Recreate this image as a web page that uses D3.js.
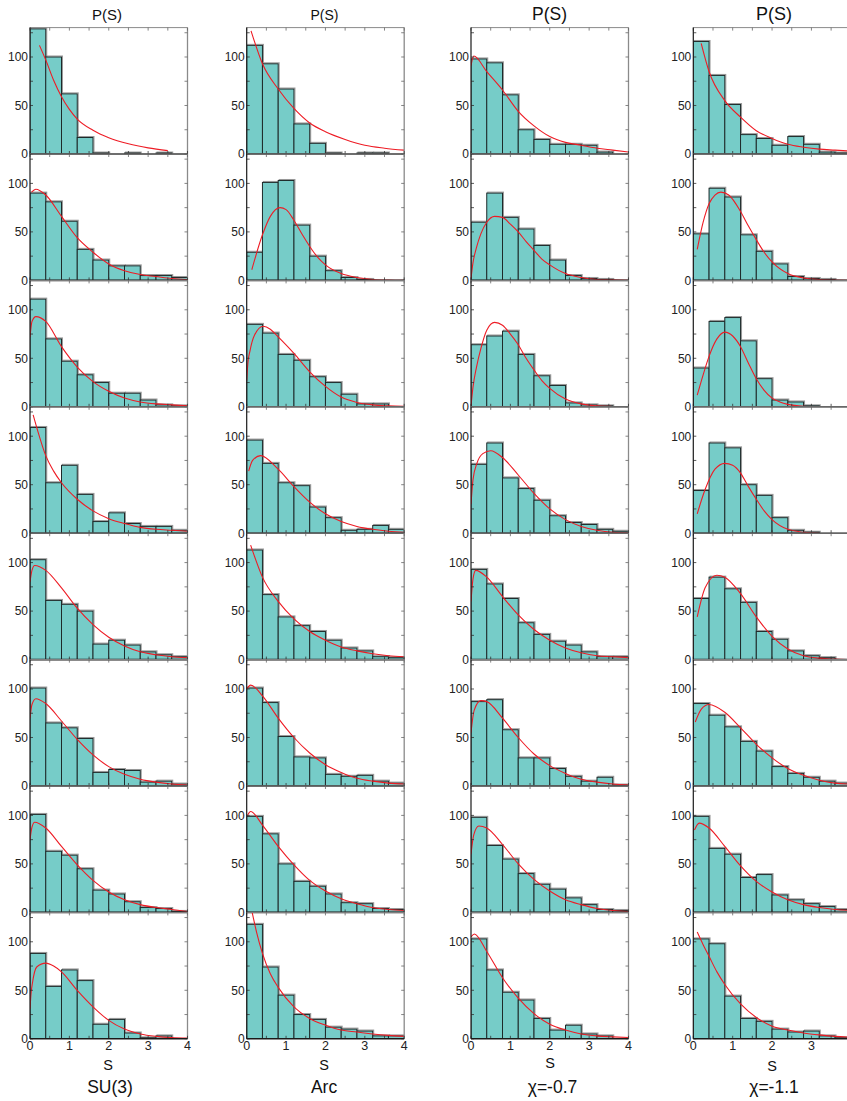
<!DOCTYPE html>
<html><head><meta charset="utf-8">
<script src="https://cdn.jsdelivr.net/npm/d3@7"></script>
<style>body{margin:0;background:#fff}svg{display:block;font-family:"Liberation Sans",Arial,sans-serif}</style>
</head><body><svg id="c" width="847" height="1101"></svg>
<script>
// ---------- DATA ----------
const columnLabels = ["SU(3)", "Arc", "χ=-0.7", "χ=-1.1"];
const titleText = "P(S)";
const xAxisLabel = "S";
const binEdges = [0, 0.4, 0.8, 1.2, 1.6, 2.0, 2.4, 2.8, 3.2, 3.6, 4.0];
const yTickValues = [0, 50, 100];
const xTickValues = [0, 1, 2, 3, 4];
const xTickValuesLast = [0, 1, 2, 3];

const countsSU3 = [
  [129, 100, 62, 17, 1, 0, 1, 0, 1, 0],
  [90, 81, 61, 32, 21, 15, 15, 5, 5, 3],
  [111, 70, 47, 33, 25, 14, 14, 7, 2, 1],
  [109, 52, 70, 40, 12, 21, 10, 7, 7, 3],
  [103, 61, 57, 50, 16, 20, 15, 8, 5, 3],
  [101, 65, 60, 49, 14, 17, 16, 4, 5, 2],
  [101, 63, 59, 45, 23, 19, 11, 5, 4, 1],
  [88, 54, 71, 60, 15, 20, 6, 1, 3, 0]
];
const countsArc = [
  [112, 93, 67, 31, 11, 1, 0, 1, 1, 0],
  [29, 101, 103, 57, 25, 10, 3, 1, 0, 0],
  [85, 76, 54, 48, 31, 25, 13, 3, 3, 0],
  [96, 72, 52, 49, 27, 16, 3, 4, 8, 4],
  [113, 67, 44, 35, 29, 20, 12, 9, 3, 2],
  [101, 86, 51, 30, 29, 12, 10, 11, 5, 3],
  [99, 81, 50, 32, 27, 19, 10, 9, 4, 3],
  [118, 74, 45, 25, 20, 12, 10, 8, 3, 3]
];
const countsChi07 = [
  [98, 94, 61, 25, 15, 10, 10, 9, 2, 0],
  [60, 90, 65, 53, 36, 21, 5, 2, 1, 0],
  [64, 73, 78, 54, 32, 22, 4, 2, 1, 0],
  [71, 93, 57, 46, 34, 18, 11, 9, 4, 2],
  [93, 78, 63, 38, 26, 19, 15, 8, 3, 3],
  [87, 89, 58, 29, 29, 18, 10, 5, 9, 1],
  [98, 69, 55, 40, 29, 24, 15, 8, 3, 2],
  [103, 71, 48, 40, 21, 9, 14, 5, 3, 0]
];
const countsChi11 = [
  [116, 81, 51, 20, 16, 9, 18, 10, 2, 1],
  [48, 95, 86, 47, 30, 17, 4, 2, 1, 0],
  [40, 88, 92, 68, 29, 7, 5, 1, 0, 0],
  [44, 93, 88, 50, 39, 16, 3, 1, 0, 0],
  [63, 85, 73, 59, 29, 21, 9, 4, 2, 0],
  [85, 73, 61, 46, 36, 20, 13, 9, 5, 3],
  [99, 66, 60, 36, 39, 18, 13, 9, 6, 3],
  [103, 98, 44, 21, 18, 10, 7, 8, 3, 1]
];

// fitted curves as [S, P] points
const fitSU3 = [
  [[0.24,112],[0.4,97],[0.6,76],[0.8,59],[1.0,46],[1.2,36],[1.6,24.5],[2.0,16.8],[2.5,10.5],[3.0,6.3],[3.5,3.5]],
  [[0.04,91],[0.15,94],[0.4,88],[0.8,66],[1.2,44],[1.6,29],[2.0,17],[2.4,10],[2.8,6],[3.2,4],[3.6,2],[4.0,1]],
  [[0,72],[0.05,88],[0.15,93],[0.4,88],[0.8,62],[1.2,41],[1.6,26],[2.0,16],[2.4,9],[2.8,5],[3.2,3],[3.6,2],[4.0,1]],
  [[0.08,122],[0.2,105],[0.4,80],[0.6,64],[0.8,52],[1.2,35],[1.6,23],[2.0,15],[2.4,10],[2.8,6],[3.2,4],[3.6,3],[4.0,2]],
  [[0,80],[0.05,92],[0.12,97],[0.4,92],[0.8,74],[1.2,53],[1.6,36],[2.0,23],[2.4,14],[2.8,8],[3.2,5],[3.6,3],[4.0,2]],
  [[0,70],[0.05,84],[0.15,90],[0.4,85],[0.8,67],[1.2,48],[1.6,32],[2.0,20],[2.4,12],[2.8,7],[3.2,4],[3.6,2],[4.0,1]],
  [[0,75],[0.05,88],[0.12,93],[0.4,87],[0.8,68],[1.2,49],[1.6,33],[2.0,21],[2.4,13],[2.8,8],[3.2,5],[3.6,3],[4.0,1]],
  [[0,31],[0.03,48],[0.06,57],[0.17,74],[0.4,78],[0.6,75],[0.8,69],[1.2,50],[1.6,33],[2.0,19],[2.4,10],[2.8,5],[3.2,2.5],[3.6,1.2],[4.0,0.7]]
];
const fitArc = [
  [[0.11,127],[0.4,93],[0.8,67],[1.2,47],[1.6,32],[2.0,23],[2.5,15],[3.0,9],[3.5,6],[4.0,4]],
  [[0.13,11],[0.4,47],[0.6,66],[0.85,75],[1.0,73],[1.2,62],[1.4,48],[1.6,35],[1.8,24],[2.0,16],[2.4,7],[2.8,3],[3.2,1],[3.6,0.3],[4.0,0]],
  [[0,27],[0.03,45],[0.085,58],[0.2,74],[0.42,83],[0.6,80],[0.8,72],[1.2,55],[1.6,36],[2.0,21],[2.4,10],[2.8,4.5],[3.2,2],[3.6,1],[4.0,0.5]],
  [[0.05,64],[0.15,75],[0.35,80],[0.8,66],[1.2,48],[1.6,32],[2.0,20],[2.4,12],[2.8,7],[3.2,4],[3.6,2],[4.0,1]],
  [[0.1,118],[0.4,85],[0.8,60],[1.2,42],[1.6,29],[2.0,20],[2.4,13],[2.8,9],[3.2,6],[3.6,4],[4.0,3]],
  [[0,100],[0.1,104],[0.4,93],[0.8,70],[1.2,50],[1.6,34],[2.0,22],[2.4,14],[2.8,8],[3.2,5],[3.6,3],[4.0,2]],
  [[0.02,100],[0.1,104],[0.4,90],[0.8,68],[1.2,49],[1.6,33],[2.0,22],[2.4,14],[2.8,9],[3.2,5],[3.6,3],[4.0,2]],
  [[0.14,130],[0.25,110],[0.4,88],[0.6,67],[0.8,53],[1.2,33],[1.6,21],[2.0,14],[2.4,9],[2.8,7],[3.2,5],[3.6,3.5],[4.0,2.5]]
];
const fitChi07 = [
  [[0,91],[0.07,101],[0.4,85],[0.8,66],[1.2,44],[1.6,29],[2.0,18],[2.4,12],[2.8,9],[3.2,6],[3.6,4],[4.0,2]],
  [[0,2],[0.05,18],[0.14,34],[0.25,48],[0.4,60],[0.6,66],[0.8,65],[1.0,58],[1.2,50],[1.4,40],[1.6,31],[1.8,22],[2.0,16],[2.4,7],[2.8,3],[3.2,1],[3.6,0.5],[4.0,0]],
  [[0,1],[0.05,20],[0.14,41],[0.25,60],[0.4,79],[0.6,87],[0.8,84],[1.0,75],[1.2,64],[1.4,50],[1.6,38],[1.8,27],[2.0,19],[2.4,8],[2.8,3],[3.2,1],[3.6,0.3],[4.0,0]],
  [[0,30],[0.05,55],[0.15,72],[0.3,82],[0.5,85],[0.8,78],[1.2,60],[1.6,41],[2.0,25],[2.4,14],[2.8,7],[3.2,3],[3.6,1],[4.0,0.5]],
  [[0,60],[0.05,83],[0.12,92],[0.4,85],[0.8,65],[1.2,46],[1.6,31],[2.0,20],[2.4,12],[2.8,7],[3.2,4],[3.6,3],[4.0,2]],
  [[0,55],[0.08,78],[0.25,88],[0.4,87],[0.8,70],[1.2,50],[1.6,33],[2.0,21],[2.4,13],[2.8,7],[3.2,4],[3.6,2],[4.0,1]],
  [[0,60],[0.07,80],[0.2,89],[0.4,87],[0.8,70],[1.2,50],[1.6,34],[2.0,22],[2.4,13],[2.8,8],[3.2,4],[3.6,2],[4.0,1]],
  [[0,105],[0.085,108],[0.4,90],[0.8,63],[1.2,42],[1.6,26],[2.0,15],[2.4,9],[2.8,5],[3.2,3],[3.6,2],[4.0,1.3]]
];
const fitChi11 = [
  [[0.2,114],[0.4,85],[0.8,55],[1.2,38],[1.6,24],[2.0,16],[2.4,10],[2.8,7],[3.2,5],[3.6,4],[4.0,3]],
  [[0.1,32],[0.25,60],[0.4,79],[0.55,88],[0.7,91],[0.9,88],[1.2,71],[1.4,56],[1.6,42],[1.8,29],[2.0,19],[2.4,7],[2.8,2.5],[3.2,1],[3.6,0.3],[4.0,0]],
  [[0.1,12],[0.25,33],[0.4,52],[0.6,70],[0.8,77],[1.0,73],[1.2,62],[1.4,45],[1.6,29],[1.8,17],[2.0,9],[2.2,5],[2.4,2.5],[2.8,0.5],[3.2,0]],
  [[0.1,20],[0.3,45],[0.55,66],[0.8,72],[1.0,70],[1.2,62],[1.4,48],[1.6,35],[1.8,23],[2.0,14],[2.4,4],[2.8,1],[3.2,0]],
  [[0.1,44],[0.3,74],[0.6,87],[0.8,85],[1.2,68],[1.6,44],[2.0,24],[2.4,11],[2.8,4],[3.2,1.5],[3.6,0.5],[4.0,0]],
  [[0.05,66],[0.2,79],[0.4,84],[0.8,76],[1.2,60],[1.6,43],[2.0,29],[2.4,18],[2.8,11],[3.2,6],[3.6,3],[4.0,2]],
  [[0.03,85],[0.15,92],[0.4,87],[0.8,68],[1.2,48],[1.6,32],[2.0,21],[2.4,13],[2.8,8],[3.2,5],[3.6,3],[4.0,2]],
  [[0.1,110],[0.25,97],[0.4,85],[0.6,69],[0.8,56],[1.2,36],[1.6,22],[2.0,13],[2.4,9],[2.8,6],[3.2,4],[3.6,2.5],[4.0,1.8]]
];

const allCounts = [countsSU3, countsArc, countsChi07, countsChi11];
const allFits = [fitSU3, fitArc, fitChi07, fitChi11];

// ---------- LAYOUT ----------
const svg = d3.select("#c");
const colX = [30, 246.7, 471, 693.3];
const plotW = 157.5;
const rowTop0 = 27.6, rowStep = 126.4, plotH = 126.4;
const titleSizes = [15, 14, 17.5, 18];
const titleX = [107, 324.5, 549.5, 774];
const sLabelX = [108, 324, 550, 772];
const sLabelY = [1070, 1070, 1068, 1070.5];
const bottomX = [110, 324, 552.5, 774];

const x = d3.scaleLinear().domain([0, 4]).range([0, plotW]);
const y = d3.scaleLinear().domain([0, 130.3]).range([plotH, 0]);

const defs = svg.append("defs");
defs.append("clipPath").attr("id", "pclip")
  .append("rect").attr("x", 0).attr("y", 0).attr("width", plotW).attr("height", plotH);

const line = d3.line().x(d => x(d[0])).y(d => y(d[1])).curve(d3.curveMonotoneX);

allCounts.forEach((colCounts, c) => {
  colCounts.forEach((counts, r) => {
    const g = svg.append("g").attr("transform", `translate(${colX[c]},${rowTop0 + r * rowStep})`);
    const bins = counts.map((v, i) => ({ x0: binEdges[i], x1: binEdges[i + 1], v }));
    const bg = g.append("g").attr("clip-path", "url(#pclip)");
    // shadow
    bg.selectAll("rect.sh").data(bins.filter(b => b.v > 0)).join("rect").attr("class", "sh")
      .attr("x", d => x(d.x0) + 1).attr("y", d => y(d.v) - 1)
      .attr("width", d => x(d.x1) - x(d.x0)).attr("height", d => y(0) - y(d.v))
      .attr("fill", "none").attr("stroke", "#9a9a9a").attr("stroke-width", 1);
    bg.selectAll("rect.b").data(bins.filter(b => b.v > 0)).join("rect").attr("class", "b")
      .attr("x", d => x(d.x0)).attr("y", d => y(d.v))
      .attr("width", d => x(d.x1) - x(d.x0)).attr("height", d => y(0) - y(d.v))
      .attr("fill", "#76ccc8").attr("stroke", "#1e2a2a").attr("stroke-width", 1);
    bg.append("path").datum(allFits[c][r]).attr("d", line)
      .attr("fill", "none").attr("stroke", "#ee1c25").attr("stroke-width", 1.1);

    // frame: top & right grey
    g.append("line").attr("x1", 0).attr("x2", plotW).attr("y1", 0).attr("y2", 0)
      .attr("stroke", "#8a8a8a").attr("stroke-width", 1);
    g.append("line").attr("x1", plotW).attr("x2", plotW).attr("y1", 0).attr("y2", plotH)
      .attr("stroke", "#8a8a8a").attr("stroke-width", 1.3);
    // ticks on all sides
    const xt = d3.range(0, 4.01, 0.5);
    const yt = d3.range(0, 130, 25);
    g.selectAll("line.xtb").data(xt).join("line").attr("class", "xtb")
      .attr("x1", d => x(d)).attr("x2", d => x(d)).attr("y1", plotH).attr("y2", plotH - 3)
      .attr("stroke", "#333").attr("stroke-width", 0.8);
    g.selectAll("line.xtt").data(xt).join("line").attr("class", "xtt")
      .attr("x1", d => x(d)).attr("x2", d => x(d)).attr("y1", 0).attr("y2", 3)
      .attr("stroke", "#666").attr("stroke-width", 0.8);
    g.selectAll("line.ytl").data(yt).join("line").attr("class", "ytl")
      .attr("x1", 0).attr("x2", 3).attr("y1", d => y(d)).attr("y2", d => y(d))
      .attr("stroke", "#333").attr("stroke-width", 0.8);
    g.selectAll("line.ytr").data(yt).join("line").attr("class", "ytr")
      .attr("x1", plotW).attr("x2", plotW - 3).attr("y1", d => y(d)).attr("y2", d => y(d))
      .attr("stroke", "#666").attr("stroke-width", 0.8);
    // left & bottom black axes
    g.append("line").attr("x1", 0).attr("x2", 0).attr("y1", 0).attr("y2", plotH)
      .attr("stroke", "#1a1a1a").attr("stroke-width", 1.2);
    g.append("line").attr("x1", 0).attr("x2", plotW).attr("y1", plotH).attr("y2", plotH)
      .attr("stroke", "#1a1a1a").attr("stroke-width", 1.6);
    // y tick labels
    g.selectAll("text.yl").data(yTickValues).join("text").attr("class", "yl")
      .attr("x", -2).attr("y", d => y(d)).attr("dy", "0.36em")
      .attr("text-anchor", "end").attr("font-size", 12).attr("fill", "#222")
      .text(d => d);
    // x tick labels on bottom row
    if (r === colCounts.length - 1) {
      const xv = c === 3 ? xTickValuesLast : xTickValues;
      g.selectAll("text.xl").data(xv).join("text").attr("class", "xl")
        .attr("x", d => x(d)).attr("y", plotH + 11.5)
        .attr("text-anchor", "middle").attr("font-size", 12.5).attr("fill", "#222")
        .text(d => d);
    }
  });
  svg.append("text").attr("x", titleX[c]).attr("y", 20).attr("text-anchor", "middle")
    .attr("font-size", titleSizes[c]).attr("fill", "#111").text(titleText);
  svg.append("text").attr("x", sLabelX[c]).attr("y", sLabelY[c]).attr("text-anchor", "middle")
    .attr("font-size", 14.5).attr("fill", "#111").text(xAxisLabel);
  svg.append("text").attr("x", bottomX[c]).attr("y", 1093).attr("text-anchor", "middle")
    .attr("font-size", 17.5).attr("fill", "#111").text(columnLabels[c]);
});
</script></body></html>
